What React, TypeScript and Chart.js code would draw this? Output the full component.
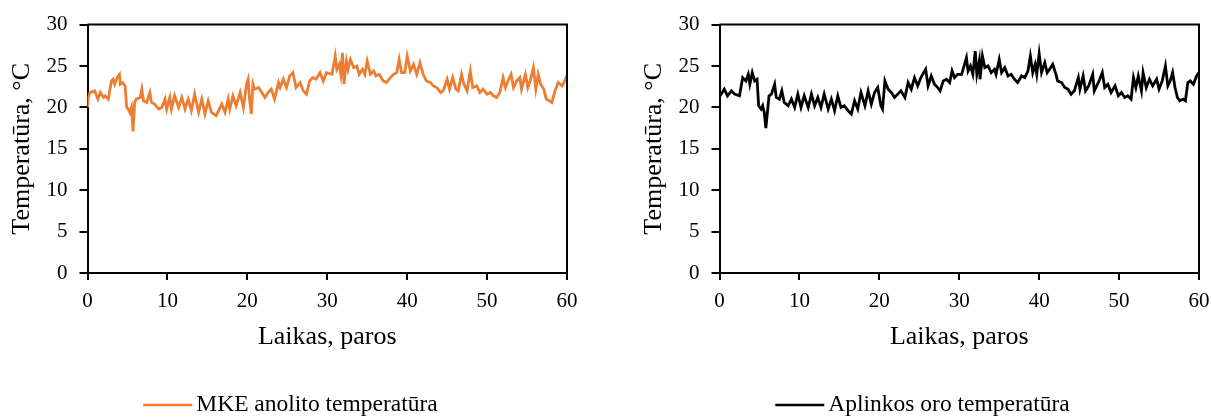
import React, { useEffect, useRef } from "react";
import { Chart, registerables } from "chart.js";

Chart.register(...registerables);

// ---- Data (days, °C) ----
const LEFT_DAYS = [
  0, 0.1, 0.3, 0.9, 1.3, 1.6, 2.0, 2.2, 2.6, 3.0,
  3.2, 3.4, 3.7, 4.0, 4.1, 4.4, 4.7, 4.9, 5.1, 5.3,
  5.5, 5.7, 5.9, 6.1, 6.6, 6.8, 7.0, 7.4, 7.8, 8.0,
  8.4, 8.9, 9.3, 9.7, 9.9, 10.3, 10.5, 10.9, 11.4, 11.8,
  12.2, 12.6, 13.0, 13.4, 13.9, 14.3, 14.7, 15.1, 15.5, 16.1,
  16.8, 17.2, 17.6, 17.8, 18.2, 18.6, 19.1, 19.5, 19.9, 20.1,
  20.3, 20.5, 20.7, 20.9, 21.4, 21.8, 22.2, 22.6, 23.0, 23.4,
  23.9, 24.1, 24.5, 24.9, 25.3, 25.7, 26.1, 26.6, 27.0, 27.4,
  27.8, 28.2, 28.6, 29.1, 29.5, 29.9, 30.6, 31.0, 31.2, 31.5,
  31.7, 31.9, 32.1, 32.4, 32.6, 32.9, 33.3, 33.7, 34.0, 34.4,
  34.7, 35.0, 35.4, 35.8, 36.1, 36.5, 37.0, 37.4, 37.9, 38.3,
  38.7, 39.0, 39.3, 39.7, 40.0, 40.4, 40.8, 41.2, 41.6, 42.0,
  42.4, 42.9, 43.3, 43.7, 44.2, 44.5, 45.0, 45.3, 45.7, 46.1,
  46.4, 46.8, 47.1, 47.5, 47.9, 48.2, 48.7, 49.1, 49.5, 50.0,
  50.4, 50.8, 51.2, 51.6, 52.0, 52.3, 52.7, 53.0, 53.3, 53.7,
  54.1, 54.3, 54.8, 55.1, 55.4, 55.8, 56.1, 56.4, 56.7, 57.1,
  57.4, 57.8, 58.1, 58.5, 58.9, 59.4, 59.8, 60.0,
];
const LEFT_TEMPS = [
  20.0, 21.2, 21.8, 22.0, 21.0, 21.8, 21.2, 21.4, 21.0, 23.2,
  23.4, 22.8, 23.6, 24.0, 22.8, 23.0, 22.6, 20.0, 19.8, 19.4,
  20.0, 17.1, 20.6, 21.0, 21.2, 22.2, 20.8, 20.6, 21.8, 20.6,
  20.4, 19.8, 20.0, 21.0, 19.8, 21.2, 19.8, 21.4, 20.0, 21.2,
  19.8, 21.0, 19.6, 21.6, 19.4, 21.0, 19.2, 20.8, 19.4, 19.0,
  20.4, 19.4, 21.0, 19.8, 21.4, 20.2, 21.8, 20.0, 22.8, 23.4,
  20.8, 19.2, 22.8, 22.2, 22.4, 21.8, 21.2, 21.8, 22.2, 21.0,
  23.0, 22.4, 23.4, 22.4, 23.8, 24.2, 22.4, 23.0, 22.0, 21.6,
  23.2, 23.6, 23.4, 24.2, 23.2, 24.2, 24.0, 26.2, 24.6, 25.2,
  24.0, 26.6, 22.8, 25.6, 24.6, 25.8, 24.8, 25.0, 24.0, 24.6,
  24.0, 25.6, 24.0, 24.4, 23.8, 24.0, 23.2, 23.0, 23.6, 24.0,
  24.2, 25.8, 24.2, 24.2, 26.2, 24.4, 25.2, 24.0, 25.4, 24.0,
  23.2, 23.0, 22.6, 22.4, 21.8, 22.0, 23.4, 22.2, 23.6, 22.2,
  22.0, 24.0, 22.8, 22.0, 24.4, 22.4, 22.6, 21.8, 22.2, 21.6,
  21.8, 21.4, 21.2, 21.8, 23.6, 22.4, 23.4, 24.0, 22.4, 23.2,
  23.6, 22.2, 24.0, 22.4, 23.2, 24.8, 22.2, 24.0, 22.8, 22.2,
  21.0, 20.8, 20.6, 22.0, 23.0, 22.6, 23.4, 23.8,
];

const RIGHT_DAYS = [
  0, 0.2, 0.6, 1.0, 1.5, 1.9, 2.5, 2.9, 3.3, 3.6,
  3.8, 4.1, 4.4, 4.7, 4.9, 5.2, 5.4, 5.6, 5.8, 6.2,
  6.5, 6.9, 7.1, 7.5, 7.8, 8.1, 8.6, 9.0, 9.4, 9.8,
  10.2, 10.6, 11.1, 11.5, 11.9, 12.3, 12.7, 13.1, 13.6, 14.0,
  14.4, 14.8, 15.2, 15.6, 16.1, 16.5, 16.9, 17.3, 17.7, 18.2,
  18.6, 19.0, 19.4, 19.8, 20.2, 20.4, 20.7, 21.1, 21.5, 21.9,
  22.3, 22.7, 23.2, 23.6, 24.0, 24.4, 24.8, 25.2, 25.8, 26.1,
  26.5, 26.9, 27.3, 27.6, 28.0, 28.4, 28.8, 29.1, 29.4, 29.8,
  30.3, 30.9, 31.1, 31.4, 31.7, 32.0, 32.2, 32.5, 32.6, 32.9,
  33.2, 33.6, 34.0, 34.4, 34.6, 35.0, 35.3, 35.7, 36.1, 36.5,
  36.9, 37.3, 37.8, 38.2, 38.6, 38.9, 39.2, 39.5, 39.7, 40.0,
  40.3, 40.7, 41.0, 41.3, 41.7, 42.1, 42.3, 42.8, 43.2, 43.6,
  44.0, 44.4, 44.9, 45.1, 45.5, 45.8, 46.2, 46.7, 46.9, 47.5,
  47.9, 48.2, 48.6, 49.0, 49.5, 49.9, 50.3, 50.7, 51.1, 51.5,
  51.8, 52.1, 52.4, 52.8, 53.0, 53.4, 53.8, 54.2, 54.7, 55.0,
  55.4, 55.8, 56.1, 56.4, 56.7, 57.0, 57.3, 57.6, 58.0, 58.3,
  58.6, 58.9, 59.3, 59.7, 60.0,
];
const RIGHT_TEMPS = [
  21.8, 21.6, 22.2, 21.4, 22.0, 21.6, 21.4, 23.6, 23.2, 24.0,
  22.8, 24.2, 23.2, 23.4, 20.2, 19.8, 20.2, 19.4, 17.5, 21.4,
  21.6, 22.8, 21.2, 21.0, 22.0, 20.6, 20.2, 21.0, 20.0, 21.6,
  20.0, 21.4, 20.0, 21.6, 20.2, 21.2, 20.0, 21.6, 19.8, 21.0,
  19.6, 21.4, 20.0, 20.2, 19.6, 19.2, 20.8, 19.8, 21.8, 20.2,
  22.0, 20.4, 21.8, 22.4, 20.2, 19.8, 23.2, 22.2, 21.8, 21.2,
  21.6, 22.0, 21.2, 23.0, 22.2, 23.6, 22.6, 23.6, 24.6, 22.6,
  23.8, 22.8, 22.4, 22.0, 23.2, 23.4, 23.0, 24.4, 23.6, 24.0,
  24.0, 26.0, 24.4, 25.0, 24.0, 26.8, 24.0, 25.6, 23.4, 26.2,
  24.8, 25.0, 24.2, 24.6, 24.0, 25.8, 24.2, 24.8, 23.8, 24.0,
  23.4, 23.0, 23.8, 23.6, 24.4, 26.2, 24.2, 25.2, 24.0, 26.5,
  24.2, 25.4, 24.2, 24.6, 25.2, 24.0, 23.2, 23.0, 22.4, 22.2,
  21.6, 22.0, 23.6, 22.2, 23.8, 22.0, 22.6, 24.0, 22.0, 23.2,
  24.2, 22.4, 22.8, 21.8, 22.6, 21.4, 21.8, 21.2, 21.4, 21.0,
  23.6, 22.4, 23.8, 22.0, 24.2, 22.4, 23.4, 22.6, 23.4, 22.2,
  23.2, 25.0, 22.6, 23.2, 24.2, 22.4, 21.2, 20.8, 21.0, 20.8,
  23.0, 23.2, 22.8, 23.8, 24.2,
];

const X_TITLE = "Laikas, paros";
const Y_TITLE = "Temperatūra, °C";
const LEFT_LABEL = "MKE anolito temperatūra";
const RIGHT_LABEL = "Aplinkos oro temperatūra";
const LEFT_COLOR = "#ED7D31";
const RIGHT_COLOR = "#000000";

const FONT = "'Liberation Serif', 'Times New Roman', serif";

type Props = { days: number[]; temps: number[]; label: string; color: string; width: number };

function TempChart({ days, temps, label, color, width }: Props) {
  const ref = useRef<HTMLCanvasElement | null>(null);

  useEffect(() => {
    if (!ref.current) return;
    const framePlugin = {
      id: "frame",
      afterDraw(chart: any) {
        const { ctx, chartArea } = chart;
        ctx.save();
        ctx.strokeStyle = "#000";
        ctx.lineWidth = 2;
        ctx.beginPath();
        ctx.moveTo(chartArea.left, chartArea.top);
        ctx.lineTo(chartArea.right, chartArea.top);
        ctx.lineTo(chartArea.right, chartArea.bottom);
        ctx.stroke();
        // legend
        ctx.font = `23.5px ${FONT}`;
        ctx.textBaseline = "middle";
        ctx.textAlign = "left";
        const lineLen = 49;
        const gap = 4;
        const tw = ctx.measureText(label).width;
        const total = lineLen + gap + tw;
        const cx = 290.5;
        const y = 405;
        const x0 = cx - total / 2;
        ctx.strokeStyle = color;
        ctx.lineWidth = 2.5;
        ctx.beginPath();
        ctx.moveTo(x0, y);
        ctx.lineTo(x0 + lineLen, y);
        ctx.stroke();
        ctx.fillStyle = "#000";
        ctx.fillText(label, x0 + lineLen + gap, y);
        ctx.restore();
      },
    };

    const chart = new Chart(ref.current, {
      type: "line",
      data: {
        datasets: [
          {
            label,
            data: days.map((d, i) => ({ x: d, y: temps[i] })),
            borderColor: color,
            backgroundColor: color,
            borderWidth: 2.8,
            pointRadius: 0,
            tension: 0,
          },
        ],
      },
      options: {
        responsive: false,
        animation: false,
        devicePixelRatio: 1,
        layout: { padding: { top: 24, right: 0, bottom: 54, left: 0 } },
        plugins: { legend: { display: false }, tooltip: { enabled: false } },
        scales: {
          x: {
            type: "linear",
            min: 0,
            max: 60,
            afterFit: (s: any) => {
              s.height = 90;
              s.paddingRight = 12;
              s.paddingLeft = 0;
            },
            ticks: {
              stepSize: 10,
              color: "#000",
              padding: 9,
              font: { family: FONT, size: 21 },
              maxRotation: 0,
            },
            grid: { drawOnChartArea: false, color: "#000", lineWidth: 2, tickLength: 7 },
            border: { color: "#000", width: 2 },
            title: {
              display: true,
              text: X_TITLE,
              color: "#000",
              font: { family: FONT, size: 26 },
              padding: { top: 0, bottom: 10 },
            },
          },
          y: {
            min: 0,
            max: 30,
            afterFit: (s: any) => {
              s.width = 87.5;
            },
            ticks: {
              stepSize: 5,
              color: "#000",
              padding: 12,
              font: { family: FONT, size: 21 },
            },
            grid: { drawOnChartArea: false, color: "#000", lineWidth: 2, tickLength: 8 },
            border: { color: "#000", width: 2 },
            title: {
              display: true,
              text: Y_TITLE,
              color: "#000",
              font: { family: FONT, size: 26 },
              padding: { top: 7, bottom: 0 },
            },
          },
        },
      },
      plugins: [framePlugin],
    } as any);
    return () => chart.destroy();
  }, [days, temps, label, color]);

  return <canvas ref={ref} width={width} height={417} style={{ width, height: 417, display: "block" }} />;
}

export default function App() {
  return (
    <div style={{ position: "absolute", left: 0, top: 0, width: 1211, height: 417, background: "#fff", overflow: "hidden" }}>
      <div style={{ position: "absolute", left: 0, top: 0 }}>
        <TempChart days={LEFT_DAYS} temps={LEFT_TEMPS} label={LEFT_LABEL} color={LEFT_COLOR} width={579} />
      </div>
      <div style={{ position: "absolute", left: 632, top: 0 }}>
        <TempChart days={RIGHT_DAYS} temps={RIGHT_TEMPS} label={RIGHT_LABEL} color={RIGHT_COLOR} width={579} />
      </div>
    </div>
  );
}
